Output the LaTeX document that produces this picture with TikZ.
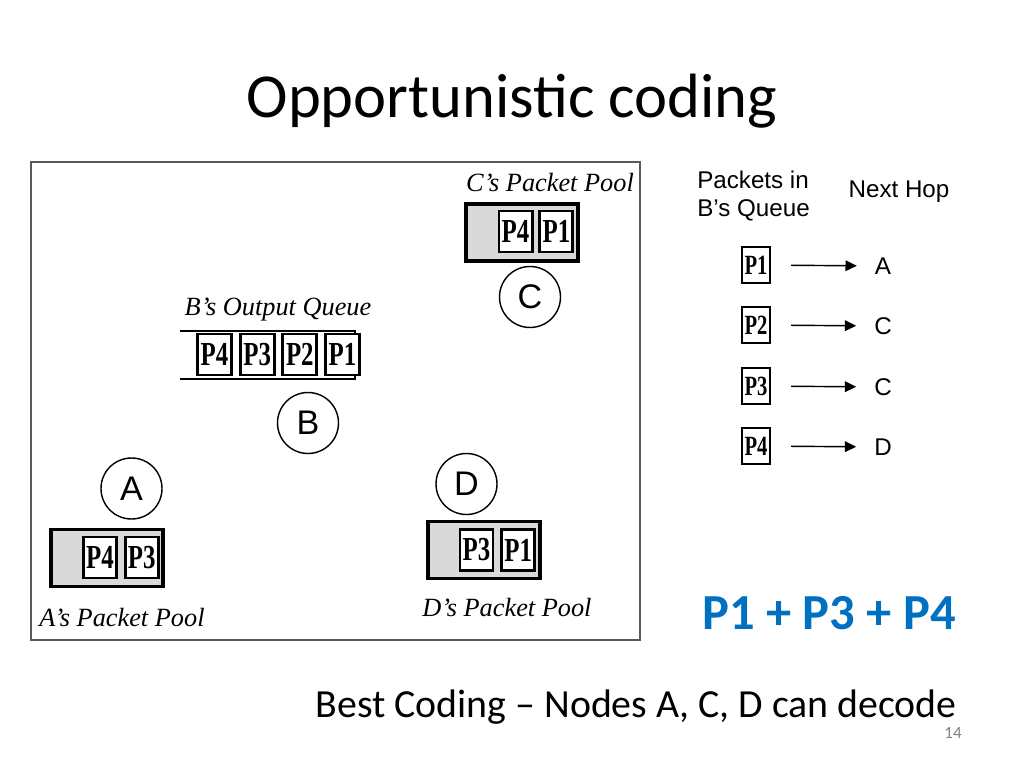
\documentclass[tikz,border=0pt]{standalone}
\usepackage{fontspec}
\setmainfont{Carlito}
\newfontfamily\timesfont{Liberation Serif}
\newfontfamily\arialfont{Liberation Sans}
\usepackage{graphicx}
\usetikzlibrary{arrows.meta,positioning}
\definecolor{slideblue}{HTML}{0070C0}
\def\upx{0.703125pt}
\def\pk#1{\scalebox{1}[1.35]{#1}}
\tikzset{
	pool/.style={draw, line width=2.6pt, fill=black!15, minimum width=112*\upx, minimum height=57*\upx, inner sep=0pt},
	pkt/.style={draw, line width=2.1pt, fill=white, minimum width=33*\upx, minimum height=41*\upx, inner sep=0pt, font=\timesfont\bfseries\fontsize{17.5}{17.5}\selectfont},
	qpkt/.style={pkt, minimum width=34*\upx},
	tpkt/.style={draw, line width=1.7pt, minimum width=28*\upx, minimum height=36*\upx, inner sep=0pt, font=\timesfont\bfseries\fontsize{14.5}{14.5}\selectfont},
	host/.style={draw, circle, line width=1pt, minimum size=61*\upx, inner sep=0pt, font=\arialfont\fontsize{24}{24}\selectfont},
	poollabel/.style={anchor=base, font=\timesfont\itshape\fontsize{18.5}{18.5}\selectfont},
	hop/.style={minimum width=16*\upx, inner sep=0pt, font=\arialfont\fontsize{17}{17}\selectfont},
	hoparrow/.style={line width=1pt, -{Triangle[length=8pt,width=7.5pt]}, shorten <=14pt, shorten >=12.5pt}
}

\begin{document}
\begin{tikzpicture}[x=\upx, y=-\upx]
		%%%%% START %%%%%
		\useasboundingbox (0, 0) rectangle (1024, 768);
		
		\node[anchor=base, font=\fontsize{44}{44}\selectfont] (title) at (512, 118) {Opportunistic coding};
		
		\draw[line width=1pt, color=black!65] (31, 162) rectangle (640, 640);
		
		% C and its pool
		\node[poollabel] (clabel) at (550, 192) {C’s Packet Pool};
		\node[pool] (cpool) at (522, 232.5) {};
		\node[pkt] (c4) at (515.5, 231.5) {\pk{P4}};
		\node[pkt, right=3.5pt of c4] (c1) {\pk{P1}};
		\node[host] (C) at (530, 297) {C};
		
		% B and its output queue
		\node[poollabel] (blabel) at (278, 316) {B’s Output Queue};
		\draw[line width=1.4pt] (180, 331) -- (355, 331) -- (355, 379) -- (180, 379);
		\node[qpkt] (b4) at (214.5, 354.5) {\pk{P4}};
		\node[qpkt, right=4pt of b4] (b3) {\pk{P3}};
		\node[qpkt, right=4pt of b3] (b2) {\pk{P2}};
		\node[qpkt, right=4pt of b2] (b1) {\pk{P1}};
		\node[host] (B) at (308, 423) {B};
		
		% A and its pool
		\node[host] (A) at (131.5, 488.5) {A};
		\node[pool] (apool) at (107, 558) {};
		\node[pkt] (a4) at (100, 557.5) {\pk{P4}};
		\node[pkt, right=4pt of a4] (a3) {\pk{P3}};
		\node[poollabel] (alabel) at (122, 626) {A’s Packet Pool};
		
		% D and its pool
		\node[host] (D) at (466.5, 484) {D};
		\node[pool] (dpool) at (484, 550) {};
		\node[pkt] (d3) at (476.5, 550) {\pk{P3}};
		\node[pkt, right=4pt of d3] (d1) {\pk{P1}};
		\node[poollabel] (dlabel) at (507, 616) {D’s Packet Pool};
		
		% next hop table
		\node[anchor=north west, align=left, inner sep=0pt, font=\arialfont\fontsize{17}{19.5}\selectfont] (qhead) at (697, 171) {Packets in\\B’s Queue};
		\node[anchor=base, inner sep=0pt, font=\arialfont\fontsize{17}{17}\selectfont] (hhead) at (899, 198) {Next Hop};
		
		\node[tpkt] (t1) at (756, 265) {\pk{P1}};
		\node[hop] (h1) at (883, 266) {A};
		\draw[hoparrow] (t1) -- (h1);
		
		\node[tpkt] (t2) at (756, 325) {\pk{P2}};
		\node[hop] (h2) at (883, 326) {C};
		\draw[hoparrow] (t2) -- (h2);
		
		\node[tpkt] (t3) at (756, 386) {\pk{P3}};
		\node[hop] (h3) at (883, 387) {C};
		\draw[hoparrow] (t3) -- (h3);
		
		\node[tpkt] (t4) at (756, 446) {\pk{P4}};
		\node[hop] (h4) at (883, 447) {D};
		\draw[hoparrow] (t4) -- (h4);
		
		% result
		\node[anchor=base east, inner sep=0pt, color=slideblue, font=\bfseries\fontsize{35.5}{35.5}\selectfont] (sum) at (956, 629) {P1 + P3 + P4};
		\node[anchor=base east, inner sep=0pt, font=\fontsize{28}{28}\selectfont] (best) at (957, 717) {Best Coding – Nodes A, C, D can decode};
		\node[anchor=base east, inner sep=0pt, color=black!50, font=\fontsize{12}{12}\selectfont] (pageno) at (962, 738) {14};
		
		%%%%% END %%%%%
	\end{tikzpicture}
\end{document}
